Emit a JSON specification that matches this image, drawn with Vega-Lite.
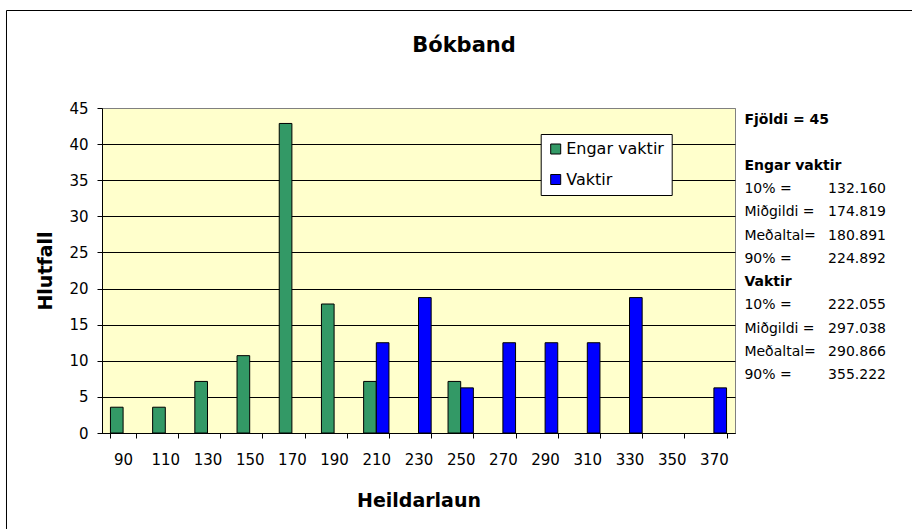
{
  "$schema": "https://vega.github.io/schema/vega-lite/v6.json",
  "width": 633,
  "height": 325,
  "padding": {"left": 5, "top": 9, "right": 0, "bottom": 0},
  "background": "white",
  "title": {"text": "Bókband", "fontSize": 21, "fontWeight": "bold", "anchor": "middle", "dx": 45.5, "offset": -46, "color": "black"},
  "config": {
    "font": "DejaVu Sans",
    "view": {"fill": "#FFFFCC", "stroke": "#808080", "strokeWidth": 1},
    "axis": {"labelColor": "black", "titleColor": "black", "domainColor": "black", "tickColor": "black"}
  },
  "datasets": {
    "bars": [
      {"bin": 90, "series": "Engar vaktir", "pct": 3.57},
      {"bin": 110, "series": "Engar vaktir", "pct": 3.57},
      {"bin": 130, "series": "Engar vaktir", "pct": 7.14},
      {"bin": 150, "series": "Engar vaktir", "pct": 10.71},
      {"bin": 170, "series": "Engar vaktir", "pct": 42.86},
      {"bin": 190, "series": "Engar vaktir", "pct": 17.86},
      {"bin": 210, "series": "Engar vaktir", "pct": 7.14},
      {"bin": 250, "series": "Engar vaktir", "pct": 7.14},
      {"bin": 210, "series": "Vaktir", "pct": 12.5},
      {"bin": 230, "series": "Vaktir", "pct": 18.75},
      {"bin": 250, "series": "Vaktir", "pct": 6.25},
      {"bin": 270, "series": "Vaktir", "pct": 12.5},
      {"bin": 290, "series": "Vaktir", "pct": 12.5},
      {"bin": 310, "series": "Vaktir", "pct": 12.5},
      {"bin": 330, "series": "Vaktir", "pct": 18.75},
      {"bin": 370, "series": "Vaktir", "pct": 6.25}
    ],
    "stats": [
      {"line": 0, "kind": "header", "label": "Fjöldi = 45", "value": ""},
      {"line": 2, "kind": "header", "label": "Engar vaktir", "value": ""},
      {"line": 3, "kind": "stat", "label": "10% =", "value": "132.160"},
      {"line": 4, "kind": "stat", "label": "Miðgildi =", "value": "174.819"},
      {"line": 5, "kind": "stat", "label": "Meðaltal=", "value": "180.891"},
      {"line": 6, "kind": "stat", "label": "90% =", "value": "224.892"},
      {"line": 7, "kind": "header", "label": "Vaktir", "value": ""},
      {"line": 8, "kind": "stat", "label": "10% =", "value": "222.055"},
      {"line": 9, "kind": "stat", "label": "Miðgildi =", "value": "297.038"},
      {"line": 10, "kind": "stat", "label": "Meðaltal=", "value": "290.866"},
      {"line": 11, "kind": "stat", "label": "90% =", "value": "355.222"}
    ]
  },
  "layer": [
    {
      "data": {"values": [{}]},
      "mark": {"type": "rule", "color": "black", "strokeWidth": 1},
      "encoding": {
        "x": {"datum": -0.15087, "type": "quantitative", "scale": {"domain": [0, 1], "zero": false, "nice": false}, "axis": null},
        "y": {"datum": 1.3, "type": "quantitative", "scale": {"domain": [0, 1], "zero": false, "nice": false}, "axis": null},
        "y2": {"datum": -0.29538}
      }
    },
    {
      "data": {"values": [{}]},
      "mark": {"type": "rule", "color": "black", "strokeWidth": 1},
      "encoding": {
        "x": {"datum": -0.15087, "type": "quantitative", "scale": {"domain": [0, 1], "zero": false, "nice": false}, "axis": null},
        "x2": {"datum": 1.28},
        "y": {"datum": 1.3, "type": "quantitative", "scale": {"domain": [0, 1], "zero": false, "nice": false}, "axis": null}
      }
    },
    {
      "data": {"name": "bars"},
      "mark": {"type": "bar", "stroke": "black", "strokeWidth": 1},
      "encoding": {
        "x": {
          "field": "bin", "type": "ordinal",
          "scale": {"domain": [90, 110, 130, 150, 170, 190, 210, 230, 250, 270, 290, 310, 330, 350, 370], "paddingInner": 0.4, "paddingOuter": 0.2},
          "axis": {"title": "Heildarlaun", "titleFontSize": 19, "titleFontWeight": "bold", "titlePadding": 24, "labelFontSize": 15, "labelAngle": 0, "labelPadding": 14, "tickSize": 5, "tickBand": "extent", "labelOverlap": false}
        },
        "xOffset": {"field": "series", "type": "nominal", "scale": {"domain": ["Engar vaktir", "Vaktir"], "paddingInner": 0, "paddingOuter": 0}},
        "y": {
          "field": "pct", "type": "quantitative",
          "scale": {"domain": [0, 45], "nice": false},
          "axis": {"values": [0, 5, 10, 15, 20, 25, 30, 35, 40, 45], "title": "Hlutfall", "titleFontSize": 19, "titleFontWeight": "bold", "titlePadding": 13, "labelFontSize": 15, "labelPadding": 9, "tickSize": 5, "grid": true, "gridWidth": 1, "gridColor": {"condition": {"test": "datum.value === 45", "value": "#808080"}, "value": "black"}}
        },
        "color": {
          "field": "series", "type": "nominal",
          "scale": {"domain": ["Engar vaktir", "Vaktir"], "range": ["#339966", "#0000FF"]},
          "legend": {"orient": "none", "legendX": 438.7, "legendY": 26, "title": null, "fillColor": "white", "strokeColor": "black", "padding": 7, "labelFontSize": 16, "labelColor": "black", "symbolType": "square", "symbolSize": 100, "symbolStrokeColor": "black", "symbolStrokeWidth": 1, "rowPadding": 14.5, "labelOffset": 2.5}
        }
      }
    },
    {
      "data": {"name": "stats"},
      "transform": [{"filter": "datum.kind === 'header'"}],
      "mark": {"type": "text", "align": "left", "baseline": "middle", "fontSize": 14, "fontWeight": "bold", "color": "black"},
      "encoding": {
        "x": {"datum": 1.0149, "type": "quantitative", "scale": {"domain": [0, 1], "zero": false, "nice": false}, "axis": null},
        "y": {"field": "line", "type": "quantitative", "scale": {"domain": [-0.5, 13.5], "reverse": true, "zero": false, "nice": false}, "axis": null},
        "text": {"field": "label"}
      }
    },
    {
      "data": {"name": "stats"},
      "transform": [{"filter": "datum.kind === 'stat'"}],
      "mark": {"type": "text", "align": "left", "baseline": "middle", "fontSize": 14, "color": "black"},
      "encoding": {
        "x": {"datum": 1.0149, "type": "quantitative", "scale": {"domain": [0, 1], "zero": false, "nice": false}, "axis": null},
        "y": {"field": "line", "type": "quantitative", "scale": {"domain": [-0.5, 13.5], "reverse": true, "zero": false, "nice": false}, "axis": null},
        "text": {"field": "label"}
      }
    },
    {
      "data": {"name": "stats"},
      "transform": [{"filter": "datum.kind === 'stat'"}],
      "mark": {"type": "text", "align": "right", "baseline": "middle", "fontSize": 14, "color": "black"},
      "encoding": {
        "x": {"datum": 1.2385, "type": "quantitative", "scale": {"domain": [0, 1], "zero": false, "nice": false}, "axis": null},
        "y": {"field": "line", "type": "quantitative", "scale": {"domain": [-0.5, 13.5], "reverse": true, "zero": false, "nice": false}, "axis": null},
        "text": {"field": "value"}
      }
    }
  ],
  "resolve": {"scale": {"x": "independent", "y": "independent", "color": "independent"}}
}
